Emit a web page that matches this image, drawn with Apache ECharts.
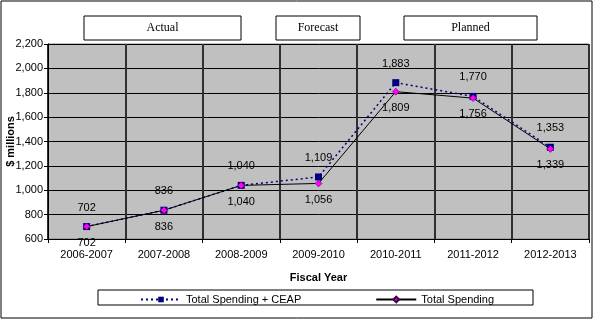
<!DOCTYPE html>
<html>
<head>
<meta charset="utf-8">
<script src="https://cdn.jsdelivr.net/npm/echarts@6/dist/echarts.min.js"></script>
<style>
  html, body { margin: 0; padding: 0; background: #fff; }
  #chart { width: 595px; height: 320px; }
</style>
</head>
<body>
<div id="chart"></div>
<script>
const fiscalYears = ['2006-2007', '2007-2008', '2008-2009', '2009-2010', '2010-2011', '2011-2012', '2012-2013']
const spendingCeap = [702, 836, 1040, 1109, 1883, 1770, 1353]
const spendingTotal = [702, 836, 1040, 1056, 1809, 1756, 1339]
const phaseLabels = ['Actual', 'Forecast', 'Planned']

const fmt = v => String(v).replace(/\B(?=(\d{3})+(?!\d))/g, ',')
const font = 'Arial, "Liberation Sans", sans-serif'

const chart = echarts.init(document.getElementById('chart'), null, { renderer: 'canvas' })

// header boxes over the plot (x, width)
const phaseBoxes = [[84, 157], [276, 84], [404, 133]]

const option = {
  animation: false,
  backgroundColor: '#fff',
  textStyle: { fontFamily: font },
  grid: {
    left: 48, top: 44, right: 6, bottom: 81,
    containLabel: false,
    outerBoundsMode: 'none',
    show: true, backgroundColor: '#C0C0C0', borderColor: '#808080', borderWidth: 1
  },
  graphic: [
    { type: 'rect', shape: { x: 1, y: 1, width: 591, height: 317 }, style: { fill: 'none', stroke: '#000', lineWidth: 1 }, z: 0 },
    { type: 'rect', shape: { x: 98, y: 290, width: 435, height: 15 }, style: { fill: '#fff', stroke: '#000', lineWidth: 1 }, z: 0 },
    ...phaseLabels.flatMap((t, i) => [
      { type: 'rect', shape: { x: phaseBoxes[i][0], y: 16, width: phaseBoxes[i][1], height: 24 }, style: { fill: '#fff', stroke: '#000', lineWidth: 1 } },
      { type: 'text', x: phaseBoxes[i][0] + phaseBoxes[i][1] / 2, y: 28, style: { text: t, font: '12px "Liberation Serif", "Times New Roman", serif', fill: '#000', align: 'center', verticalAlign: 'middle' } }
    ])
  ],
  legend: {
    left: 135,
    top: 289,
    itemWidth: 40,
    itemHeight: 7,
    itemGap: 74,
    textStyle: { fontSize: 11, color: '#000', fontFamily: font },
    data: ['Total Spending + CEAP', 'Total Spending'],
    z: 5
  },
  xAxis: {
    type: 'category',
    data: fiscalYears,
    boundaryGap: true,
    name: 'Fiscal Year',
    nameLocation: 'middle',
    nameGap: 33,
    nameTextStyle: { fontWeight: 'bold', fontSize: 11, color: '#000' },
    axisLine: { lineStyle: { color: '#000' } },
    axisTick: { show: true, length: 4, lineStyle: { color: '#000' } },
    axisLabel: { color: '#000', fontSize: 11, margin: 10 },
    splitLine: { show: true, lineStyle: { color: '#303030', width: 2 } }
  },
  yAxis: {
    type: 'value',
    min: 600,
    max: 2200,
    interval: 200,
    name: '$ millions',
    nameLocation: 'middle',
    nameGap: 32,
    nameMoveOverlap: false,
    nameTextStyle: { fontWeight: 'bold', fontSize: 11, color: '#000' },
    axisLine: { show: true, lineStyle: { color: '#000' } },
    axisTick: { show: true, length: 4, lineStyle: { color: '#000' } },
    axisLabel: { color: '#000', fontSize: 11, margin: 5, formatter: fmt },
    splitLine: { lineStyle: { color: '#000', width: 1 } }
  },
  series: [
    {
      name: 'Total Spending + CEAP',
      type: 'line',
      data: spendingCeap,
      symbol: 'rect',
      symbolSize: 7,
      itemStyle: { color: '#000080' },
      lineStyle: { color: '#000080', width: 1.5, type: [2, 3] },
      label: { show: true, position: 'top', distance: 10, color: '#000', fontSize: 11, formatter: p => fmt(p.value) },
      z: 3
    },
    {
      name: 'Total Spending',
      type: 'line',
      data: spendingTotal,
      symbol: 'diamond',
      symbolSize: 7,
      itemStyle: { color: '#FF00FF', borderColor: '#400040', borderWidth: 0.5 },
      lineStyle: { color: '#000', width: 1 },
      label: { show: true, position: 'bottom', distance: 7, color: '#000', fontSize: 11, formatter: p => fmt(p.value) },
      z: 4
    }
  ]
}

chart.setOption(option)
</script>
</body>
</html>
